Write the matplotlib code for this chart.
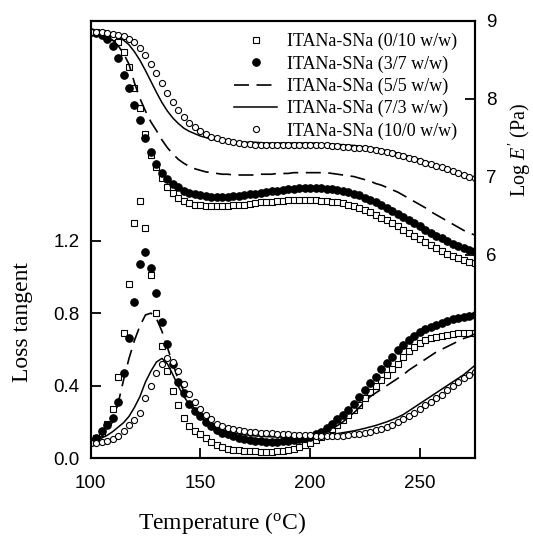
import matplotlib
matplotlib.use("Agg")
import numpy as np
import matplotlib.pyplot as plt

# temperature grid (deg C), one reading every 2.5 degrees
temp = np.arange(100, 275.1, 2.5)

labels = ["ITANa-SNa (0/10 w/w)", "ITANa-SNa (3/7 w/w)", "ITANa-SNa (5/5 w/w)",
          "ITANa-SNa (7/3 w/w)", "ITANa-SNa (10/0 w/w)"]

# loss tangent
tan_0_10 = [0.09, 0.11, 0.14, 0.19, 0.27, 0.45, 0.69, 0.96, 1.30, 1.42,
            1.27, 1.01, 0.80, 0.62, 0.48, 0.37, 0.29, 0.22, 0.175, 0.15,
            0.13, 0.11, 0.09, 0.072, 0.06, 0.052, 0.046, 0.042, 0.04, 0.038,
            0.036, 0.035, 0.035, 0.035, 0.036, 0.04, 0.045, 0.052, 0.062, 0.072,
            0.085, 0.10, 0.115, 0.135, 0.16, 0.185, 0.21, 0.235, 0.265, 0.295,
            0.33, 0.365, 0.40, 0.43, 0.46, 0.49, 0.52, 0.555, 0.59, 0.615,
            0.635, 0.65, 0.66, 0.67, 0.675, 0.68, 0.685, 0.69, 0.69, 0.69,
            0.69]
tan_3_7 = [0.09, 0.11, 0.15, 0.18, 0.22, 0.31, 0.47, 0.66, 0.86, 1.07,
           1.14, 1.05, 0.91, 0.75, 0.63, 0.52, 0.42, 0.36, 0.30, 0.26,
           0.23, 0.20, 0.175, 0.155, 0.14, 0.13, 0.12, 0.113, 0.107, 0.10,
           0.096, 0.093, 0.091, 0.09, 0.09, 0.092, 0.095, 0.099, 0.104, 0.11,
           0.117, 0.13, 0.145, 0.165, 0.19, 0.215, 0.24, 0.265, 0.30, 0.335,
           0.375, 0.415, 0.45, 0.49, 0.525, 0.56, 0.595, 0.625, 0.65, 0.675,
           0.695, 0.71, 0.725, 0.735, 0.745, 0.755, 0.765, 0.772, 0.778, 0.784,
           0.79]
tan_5_5 = [0.09, 0.10, 0.12, 0.15, 0.20, 0.30, 0.43, 0.55, 0.65, 0.73,
           0.79, 0.80, 0.77, 0.70, 0.61, 0.52, 0.43, 0.37, 0.31, 0.27,
           0.235, 0.21, 0.185, 0.165, 0.15, 0.14, 0.13, 0.122, 0.116, 0.11,
           0.106, 0.103, 0.10, 0.099, 0.099, 0.10, 0.102, 0.105, 0.108, 0.112,
           0.117, 0.124, 0.133, 0.145, 0.16, 0.18, 0.20, 0.225, 0.25, 0.28,
           0.31, 0.34, 0.36, 0.38, 0.40, 0.42, 0.44, 0.46, 0.485, 0.505,
           0.525, 0.545, 0.565, 0.585, 0.60, 0.615, 0.63, 0.645, 0.66, 0.67,
           0.685]
tan_7_3 = [0.09, 0.10, 0.11, 0.125, 0.145, 0.17, 0.195, 0.23, 0.28, 0.34,
           0.42, 0.48, 0.53, 0.55, 0.52, 0.46, 0.395, 0.34, 0.295, 0.255,
           0.225, 0.20, 0.18, 0.165, 0.155, 0.147, 0.14, 0.134, 0.129, 0.125,
           0.122, 0.12, 0.118, 0.117, 0.116, 0.115, 0.115, 0.115, 0.116, 0.117,
           0.118, 0.12, 0.123, 0.126, 0.13, 0.135, 0.14, 0.145, 0.15, 0.157,
           0.164, 0.172, 0.18, 0.19, 0.20, 0.212, 0.225, 0.24, 0.26, 0.28,
           0.30, 0.32, 0.34, 0.36, 0.38, 0.40, 0.42, 0.44, 0.46, 0.485,
           0.51]
tan_10_0 = [0.085, 0.085, 0.09, 0.095, 0.105, 0.12, 0.15, 0.18, 0.21, 0.25,
            0.33, 0.40, 0.47, 0.52, 0.55, 0.53, 0.48, 0.41, 0.355, 0.31,
            0.27, 0.24, 0.215, 0.19, 0.175, 0.165, 0.158, 0.153, 0.149, 0.146,
            0.143, 0.14, 0.138, 0.136, 0.134, 0.132, 0.13, 0.128, 0.127, 0.126,
            0.125, 0.124, 0.122, 0.121, 0.12, 0.121, 0.123, 0.126, 0.13, 0.135,
            0.14, 0.145, 0.152, 0.16, 0.17, 0.183, 0.197, 0.213, 0.23, 0.25,
            0.27, 0.29, 0.31, 0.33, 0.35, 0.373, 0.395, 0.42, 0.44, 0.46,
            0.475]

# log E' (Pa)
logE_0_10 = [8.85, 8.85, 8.84, 8.82, 8.79, 8.72, 8.60, 8.40, 8.14, 7.88,
             7.55, 7.28, 7.12, 6.98, 6.87, 6.79, 6.73, 6.69, 6.66, 6.64,
             6.63, 6.62, 6.62, 6.62, 6.62, 6.62, 6.63, 6.63, 6.64, 6.65,
             6.66, 6.67, 6.68, 6.68, 6.69, 6.69, 6.70, 6.70, 6.70, 6.70,
             6.70, 6.70, 6.69, 6.69, 6.68, 6.67, 6.66, 6.64, 6.62, 6.60,
             6.57, 6.54, 6.51, 6.47, 6.44, 6.40, 6.36, 6.32, 6.28, 6.24,
             6.20, 6.16, 6.12, 6.08, 6.05, 6.01, 5.98, 5.95, 5.93, 5.91,
             5.89]
logE_3_7 = [8.85, 8.84, 8.82, 8.77, 8.68, 8.52, 8.30, 8.13, 7.92, 7.72,
            7.49, 7.32, 7.16, 7.05, 6.97, 6.91, 6.86, 6.82, 6.79, 6.77,
            6.76, 6.75, 6.74, 6.74, 6.74, 6.74, 6.75, 6.75, 6.76, 6.77,
            6.78, 6.79, 6.80, 6.81, 6.82, 6.83, 6.84, 6.84, 6.85, 6.85,
            6.85, 6.85, 6.85, 6.84, 6.84, 6.83, 6.82, 6.80, 6.78, 6.76,
            6.73, 6.70, 6.67, 6.63, 6.60, 6.56, 6.52, 6.48, 6.44, 6.40,
            6.36, 6.32, 6.28, 6.24, 6.21, 6.17, 6.14, 6.11, 6.08, 6.06,
            6.04]
logE_5_5 = [8.85, 8.84, 8.83, 8.80, 8.75, 8.68, 8.58, 8.44, 8.20, 8.00,
            7.84, 7.70, 7.59, 7.47, 7.37, 7.29, 7.22, 7.17, 7.13, 7.10,
            7.08, 7.06, 7.05, 7.04, 7.03, 7.03, 7.02, 7.02, 7.02, 7.02,
            7.02, 7.03, 7.03, 7.03, 7.04, 7.04, 7.04, 7.05, 7.05, 7.05,
            7.05, 7.05, 7.05, 7.05, 7.04, 7.03, 7.02, 7.01, 7.00, 6.98,
            6.96, 6.94, 6.91, 6.89, 6.86, 6.83, 6.80, 6.76, 6.72, 6.68,
            6.64, 6.60, 6.55, 6.51, 6.47, 6.43, 6.39, 6.35, 6.31, 6.28,
            6.25]
logE_7_3 = [8.85, 8.85, 8.84, 8.83, 8.82, 8.79, 8.75, 8.69, 8.60, 8.49,
            8.36, 8.22, 8.08, 7.95, 7.84, 7.75, 7.68, 7.62, 7.58, 7.55,
            7.52, 7.50, 7.48, 7.47, 7.46, 7.455, 7.45, 7.445, 7.44, 7.44,
            7.44, 7.435, 7.43, 7.43, 7.43, 7.43, 7.43, 7.43, 7.43, 7.43,
            7.43, 7.43, 7.42, 7.42, 7.42, 7.41, 7.41, 7.40, 7.40, 7.39,
            7.38, 7.37, 7.36, 7.35, 7.33, 7.32, 7.30, 7.28, 7.26, 7.24,
            7.22, 7.20, 7.17, 7.15, 7.13, 7.10, 7.08, 7.05, 7.03, 7.00,
            6.98]
logE_10_0 = [8.85, 8.85, 8.85, 8.84, 8.83, 8.82, 8.80, 8.77, 8.72, 8.65,
             8.56, 8.45, 8.33, 8.20, 8.07, 7.95, 7.85, 7.76, 7.69, 7.63,
             7.58, 7.54, 7.51, 7.49, 7.47, 7.45, 7.44, 7.43, 7.42, 7.42,
             7.41, 7.41, 7.41, 7.41, 7.40, 7.40, 7.40, 7.40, 7.40, 7.40,
             7.40, 7.40, 7.40, 7.40, 7.39, 7.39, 7.38, 7.38, 7.37, 7.37,
             7.36, 7.35, 7.34, 7.33, 7.31, 7.30, 7.28, 7.26, 7.24, 7.22,
             7.20, 7.18, 7.16, 7.14, 7.12, 7.10, 7.07, 7.05, 7.02, 7.00,
             6.98]

plt.rcParams["font.family"] = "Liberation Sans"
plt.rcParams["mathtext.fontset"] = "custom"
plt.rcParams["mathtext.rm"] = "Liberation Serif"
plt.rcParams["mathtext.it"] = "Liberation Serif:italic"

serif = "Liberation Serif"

fig = plt.figure(figsize=(5.33, 5.36), dpi=100)
ax = fig.add_axes([0.170, 0.1455, 0.7205, 0.816])
ax2 = ax.twinx()

# marker / line styles, in legend order
styles = [
    dict(ls="none", marker="s", ms=4.8, mfc="white", mec="black", mew=0.8),
    dict(ls="none", marker="o", ms=5.4, mfc="black", mec="black", mew=0.8),
    dict(ls=(0, (9, 4.5)), lw=1.2, color="black"),
    dict(ls="-", lw=1.1, color="black"),
    dict(ls="none", marker="o", ms=4.4, mfc="white", mec="black", mew=0.8),
]
tan_series = [tan_0_10, tan_3_7, tan_5_5, tan_7_3, tan_10_0]
logE_series = [logE_0_10, logE_3_7, logE_5_5, logE_7_3, logE_10_0]

handles = []
for lab, st, tn, le in zip(labels, styles, tan_series, logE_series):
    h, = ax.plot(temp, tn, label=lab, **st)
    ax2.plot(temp, le, **st)
    handles.append(h)

ax.set_xlim(100, 275)
ax.set_ylim(0, 2.415)
ax2.set_ylim(3.39, 9)

ax.set_xticks([100, 150, 200, 250])
ax.set_yticks([0.0, 0.4, 0.8, 1.2])
ax.set_yticklabels(["0.0", "0.4", "0.8", "1.2"])
ax2.set_yticks([6, 7, 8, 9])

for a in (ax, ax2):
    a.tick_params(direction="in", length=7.5, width=1.3, labelsize=13.5, pad=8)
    for sp in a.spines.values():
        sp.set_linewidth(1.5)
ax.tick_params(top=False, right=False)
ax.tick_params(axis="x", pad=12)

ax.set_xlabel(r"Temperature ($^{\rm o}$C)", fontsize=17, family=serif)
ax.xaxis.set_label_coords(0.343, -0.118)
ax.set_ylabel("Loss tangent", fontsize=17, family=serif)
ax.yaxis.set_label_coords(-0.150, 0.31)
ax2.set_ylabel(r"Log $E'$ (Pa)", fontsize=14.5, family=serif)
ax2.yaxis.set_label_coords(1.085, 0.704)

ax2.legend(handles=handles, loc="upper right", bbox_to_anchor=(0.955, 0.972),
           frameon=False, numpoints=1, handlelength=2.4, handletextpad=0.55,
           labelspacing=0.28, borderaxespad=0, borderpad=0,
           prop={"family": serif, "size": 13})

fig.savefig("out.png", dpi=100)
